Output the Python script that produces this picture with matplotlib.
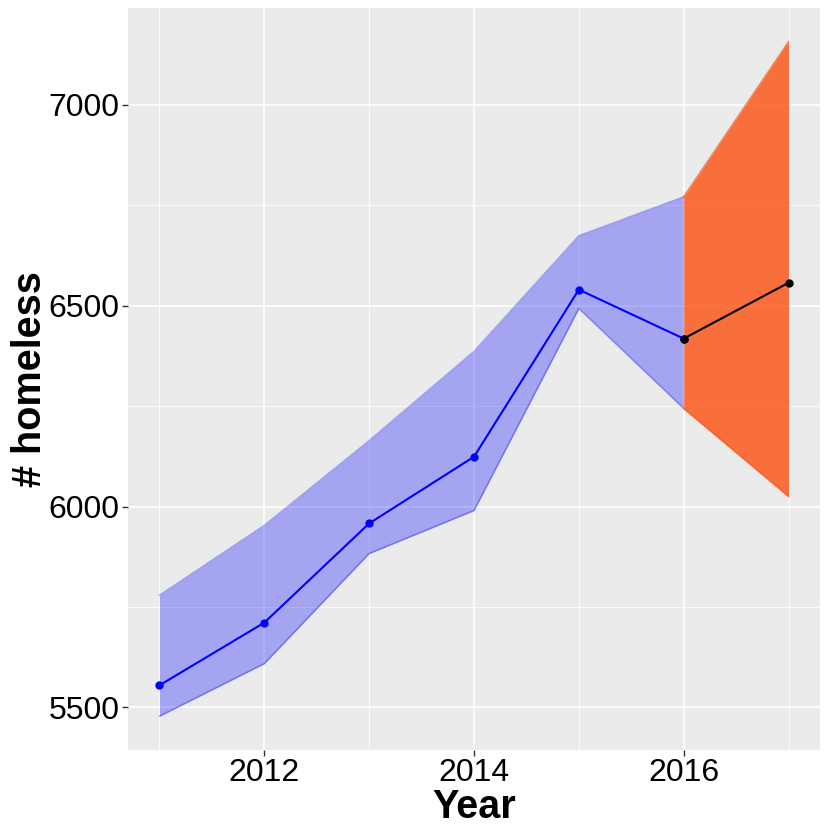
import matplotlib
matplotlib.use('Agg')
import matplotlib.pyplot as plt
import numpy as np

# observed series
years = [2011, 2012, 2013, 2014, 2015, 2016]
homeless = [5555, 5711, 5958, 6124, 6540, 6418]
lower = [5478, 5609, 5883, 5990, 6493, 6244]
upper = [5779, 5953, 6164, 6386, 6674, 6771]

# forecast
fc_years = [2016, 2017]
fc_value = [6418, 6557]
fc_lower = [6244, 6025]
fc_upper = [6771, 7157]

plt.rcParams['font.family'] = ['Liberation Sans', 'DejaVu Sans']

fig = plt.figure(figsize=(8.3, 8.3), dpi=100)
ax = fig.add_axes([128 / 830, 80 / 830, 692 / 830, 742 / 830])
ax.set_facecolor('#EBEBEB')

# grid
for x in [2011, 2013, 2015, 2017]:
    ax.axvline(x, color='white', lw=0.6, zorder=0)
for y in [5750, 6250, 6750]:
    ax.axhline(y, color='white', lw=0.6, zorder=0)
for x in [2012, 2014, 2016]:
    ax.axvline(x, color='white', lw=1.2, zorder=0)
for y in [5500, 6000, 6500, 7000]:
    ax.axhline(y, color='white', lw=1.2, zorder=0)

ax.fill_between(years, lower, upper, color='blue', alpha=0.3, lw=0, zorder=1)
ax.plot(years, upper, color='blue', alpha=0.3, lw=1.2, zorder=1)
ax.plot(years, lower, color='blue', alpha=0.3, lw=1.2, zorder=1)

ax.fill_between(fc_years, fc_lower, fc_upper, color='#FF4500', alpha=0.75, lw=0, zorder=2)
ax.plot(fc_years, fc_upper, color='#FF4500', alpha=0.6, lw=1.2, zorder=2)
ax.plot(fc_years, fc_lower, color='#FF4500', alpha=0.6, lw=1.2, zorder=2)

ax.plot(years, homeless, color='blue', lw=1.5, marker='o', ms=5, zorder=3)
ax.plot(fc_years, fc_value, color='black', lw=1.5, marker='o', ms=5, zorder=4)

ax.set_xlim(2010.7, 2017.3)
ax.set_ylim(5394, 7241)
ax.set_xticks([2012, 2014, 2016])
ax.set_yticks([5500, 6000, 6500, 7000])
ax.tick_params(labelsize=23, length=4, width=1, color='#333333', labelcolor='black', pad=2)
for s in ax.spines.values():
    s.set_visible(False)

ax.set_xlabel('Year', fontsize=28.5, fontweight='bold', labelpad=0)
ax.set_ylabel('# homeless', fontsize=28.5, fontweight='bold', labelpad=0)

fig.savefig('out.png', dpi=100)
